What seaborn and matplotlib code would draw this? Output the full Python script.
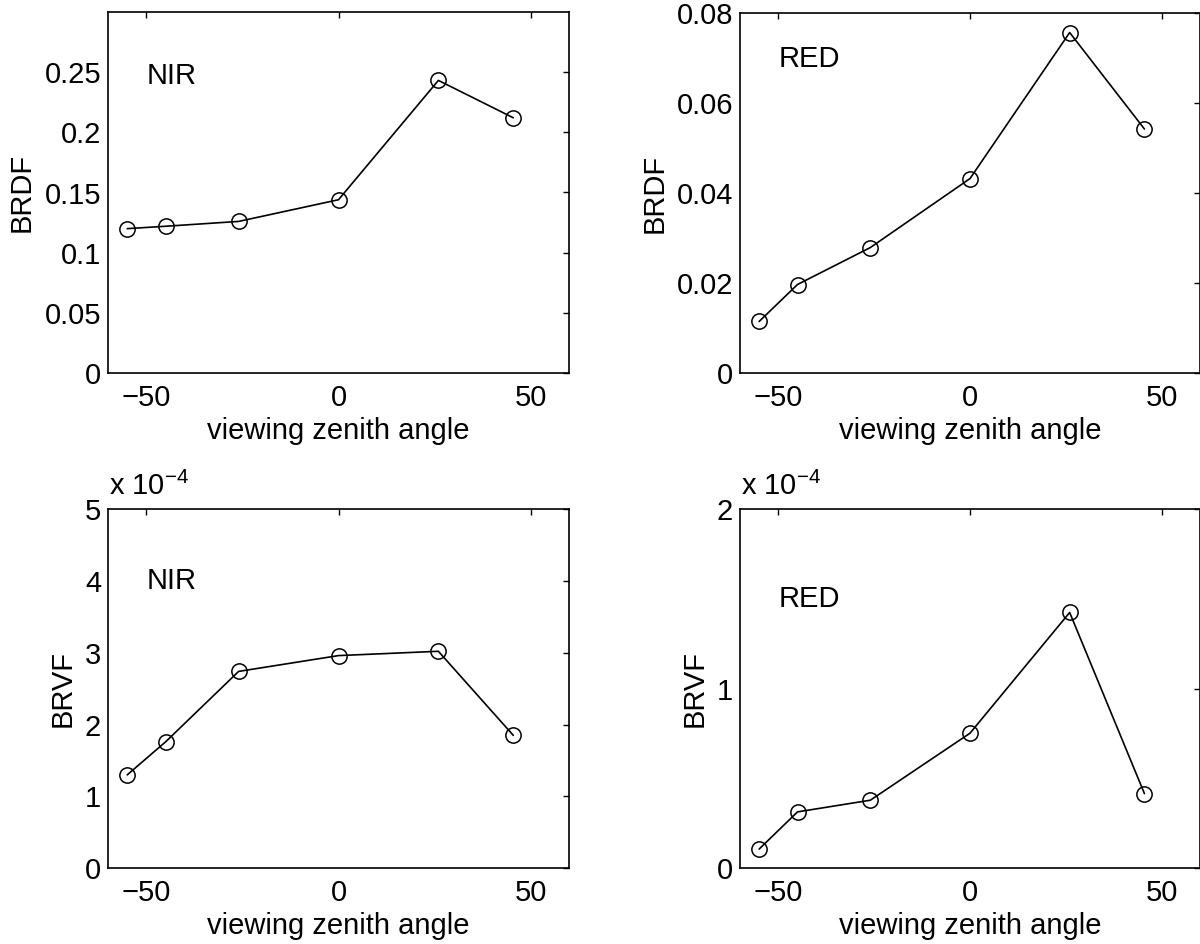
import matplotlib
matplotlib.use("Agg")
import matplotlib.pyplot as plt
import seaborn as sns
import pandas as pd

# ---- data ----
angles = [-55, -45, -26, 0, 26, 45.5]
brdf_nir = [0.120, 0.122, 0.126, 0.144, 0.243, 0.212]
brdf_red = [0.0115, 0.0197, 0.0279, 0.0432, 0.0756, 0.0542]
brvf_nir = [1.30, 1.76, 2.74, 2.96, 3.02, 1.85]      # x 10^-4
brvf_red = [0.107, 0.314, 0.379, 0.752, 1.424, 0.416]  # x 10^-4

xticks = [-50, 0, 50]
xtick_labels = ["\u221250", "0", "50"]
brdf_nir_ticks = [0, 0.05, 0.1, 0.15, 0.2, 0.25]
brdf_nir_labels = ["0", "0.05", "0.1", "0.15", "0.2", "0.25"]
brdf_red_ticks = [0, 0.02, 0.04, 0.06, 0.08]
brdf_red_labels = ["0", "0.02", "0.04", "0.06", "0.08"]
brvf_nir_ticks = [0, 1, 2, 3, 4, 5]
brvf_red_ticks = [0, 1, 2]

sns.set_style("white")
plt.rcParams["font.family"] = ["Liberation Sans", "DejaVu Sans"]
plt.rcParams["mathtext.fontset"] = "custom"
plt.rcParams["mathtext.rm"] = "Liberation Sans"
plt.rcParams["mathtext.it"] = "Liberation Sans:italic"
plt.rcParams["mathtext.default"] = "regular"
plt.rcParams["text.color"] = "black"
plt.rcParams["axes.labelcolor"] = "black"

FS = 21

fig = plt.figure(figsize=(12, 9.44), dpi=100)
W, H = 1200, 944

def make_ax(l, r, t, b):
    return fig.add_axes([l / W, 1 - b / H, (r - l) / W, (b - t) / H])

ax_tl = make_ax(108, 569, 11.7, 373.3)
ax_tr = make_ax(740, 1200, 12.7, 373.3)
ax_bl = make_ax(108, 569, 509, 868.3)
ax_br = make_ax(740, 1200, 509, 868.3)

panels = [
    (ax_tl, brdf_nir, "BRDF", "NIR", (0, 0.3), brdf_nir_ticks, brdf_nir_labels, 0.247, False),
    (ax_tr, brdf_red, "BRDF", "RED", (0, 0.08), brdf_red_ticks, brdf_red_labels, 0.0697, False),
    (ax_bl, brvf_nir, "BRVF", "NIR", (0, 5), brvf_nir_ticks, [str(t) for t in brvf_nir_ticks], 4.0, True),
    (ax_br, brvf_red, "BRVF", "RED", (0, 2), brvf_red_ticks, [str(t) for t in brvf_red_ticks], 1.5, True),
]

for ax, vals, ylab, band, ylim, yt, ytl, ty, sci in panels:
    df = pd.DataFrame({"angle": angles, "value": vals})
    sns.lineplot(data=df, x="angle", y="value", ax=ax, color="black",
                 linewidth=1.2, marker="o", markersize=11,
                 markerfacecolor="none", markeredgecolor="black",
                 markeredgewidth=1.1, errorbar=None)
    ax.set_xlim(-60, 60)
    ax.set_ylim(*ylim)
    ax.set_xticks(xticks)
    ax.set_xticklabels(xtick_labels)
    ax.set_yticks(yt)
    ax.set_yticklabels(ytl)
    ax.tick_params(axis="both", direction="in", length=4, width=1.0,
                   top=True, right=True, labelsize=FS, colors="black")
    ax.tick_params(axis="x", pad=8)
    ax.tick_params(axis="y", pad=5)
    for s in ax.spines.values():
        s.set_visible(True)
        s.set_color("black")
        s.set_linewidth(1.2)
    ax.set_xlabel("viewing zenith angle", fontsize=FS, labelpad=3)
    ax.set_ylabel(ylab, fontsize=FS, labelpad=6)
    ax.text(-50, ty, band, fontsize=FS, ha="left", va="center", color="black")
    if sci:
        ax.annotate("x 10$^{\u22124}$", xy=(0, 1), xycoords="axes fraction",
                    xytext=(1, 6), textcoords="offset points",
                    ha="left", va="bottom", fontsize=FS, color="black")
    ax.set_facecolor("white")

fig.savefig("out.png", dpi=100, facecolor="white")
